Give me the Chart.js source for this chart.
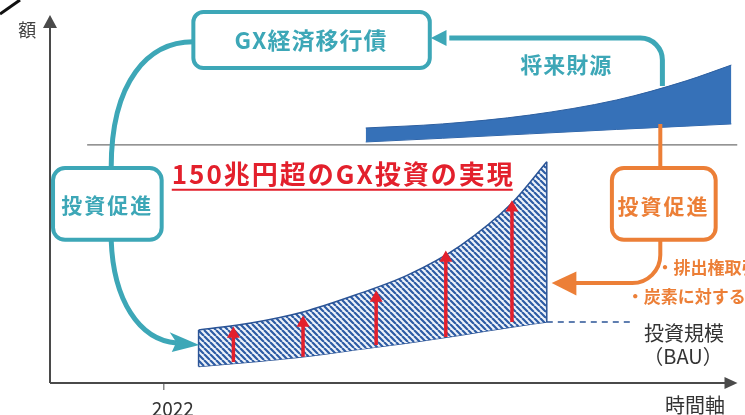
<!DOCTYPE html>
<html>
<head>
<meta charset="utf-8">
<script src="https://cdn.jsdelivr.net/npm/chart.js@4.4.0/dist/chart.umd.min.js"></script>
<style>
  html, body { margin: 0; padding: 0; background: #fff; }
</style>
</head>
<body>
<canvas id="gxChart" width="745" height="415"></canvas>
<script>
// investment scale: BAU (lower edge) and GX investment (upper edge)
const invYears = [2023, 2024.5, 2026, 2027.5, 2029, 2030.5, 2032, 2033];
const invUpper = [14.4, 16.3, 19.3, 23.9, 29.3, 37.2, 48.9, 60.1];
const invLower = [4.5, 5.7, 7.1, 9.0, 10.9, 13.0, 15.2, 16.6];

// future revenue wedge (将来財源)
const srcYears = [2027.8, 2030, 2032.5, 2035, 2037, 2038.3];
const srcTop = [69.3, 70.4, 72.8, 76.9, 82.1, 86.4];
const srcBottom = [65.5, 66.5, 67.7, 68.9, 69.8, 70.4];

// red arrows inside the hatched area
const arrowYears = [2024.0, 2026.0, 2028.1, 2030.1, 2032.0];
const arrowFrom = [5.7, 7.1, 10.3, 12.5, 16.6];
const arrowTo = [13.3, 16.3, 23.1, 34.0, 47.6];

// reference lines
const refLine = { from: 2019.8, level: 64.7 };
const bauLine = { years: [2033, 2035.4], level: 16.6 };

// axis range and tick
const xMin = 2018.733, xMax = 2038.477;
const tickYears = ['2022'];

const teal = '#3da7b7';
const orange = '#ec7f37';
const red = '#e3202c';
const navy = '#2b5496';
const font = '"Noto Sans CJK JP", "Noto Sans", sans-serif';

// hatch pattern for the investment area
function makeHatch() {
    const c = document.createElement('canvas');
    c.width = 6; c.height = 6;
    const g = c.getContext('2d');
    g.fillStyle = '#eef3fa';
    g.fillRect(0, 0, 6, 6);
    g.strokeStyle = '#2d5ca4';
    g.lineWidth = 2.2;
    g.beginPath();
    [-6, 0, 6].forEach(x0 => { g.moveTo(x0, 0); g.lineTo(x0 + 6, 6); });
    g.stroke();
    return g.createPattern(c, 'repeat');
}

const ctx2d = document.getElementById('gxChart').getContext('2d');
const hatch = makeHatch();

const datasets = [];

// red arrows (drawn on top)
arrowYears.forEach((yr, i) => {
    datasets.push({
        data: [{ x: yr, y: arrowFrom[i] }, { x: yr, y: arrowTo[i] }],
        borderColor: red,
        borderWidth: 3.5,
        pointRadius: [0, 7.5],
        pointStyle: 'triangle',
        pointBackgroundColor: red,
        pointBorderWidth: 0,
        fill: false,
        order: 0
    });
});

// hatched investment area
datasets.push({
    data: invYears.map((x, i) => ({ x, y: invLower[i] })),
    borderColor: navy, borderWidth: 1.5, pointRadius: 0,
    cubicInterpolationMode: 'monotone', fill: false, order: 3
});
datasets.push({
    data: invYears.map((x, i) => ({ x, y: invUpper[i] })),
    borderColor: navy, borderWidth: 1.5, pointRadius: 0,
    cubicInterpolationMode: 'monotone', fill: '-1', backgroundColor: hatch, order: 2
});
[0, invYears.length - 1].forEach(i => {
    datasets.push({
        data: [{ x: invYears[i], y: invLower[i] }, { x: invYears[i], y: invUpper[i] }],
        borderColor: navy, borderWidth: 1.5, pointRadius: 0, fill: false, order: 1
    });
});

// future revenue wedge
datasets.push({
    data: srcYears.map((x, i) => ({ x, y: srcBottom[i] })),
    borderColor: '#2d5fa0', borderWidth: 1, pointRadius: 0,
    cubicInterpolationMode: 'monotone', fill: false, order: 5
});
datasets.push({
    data: srcYears.map((x, i) => ({ x, y: srcTop[i] })),
    borderColor: '#2d5fa0', borderWidth: 1, pointRadius: 0,
    cubicInterpolationMode: 'monotone', fill: '-1', backgroundColor: '#3671b8', order: 4
});

// thin horizontal reference line and BAU dashed line
datasets.push({
    data: [{ x: refLine.from, y: refLine.level }, { x: xMax, y: refLine.level }],
    borderColor: '#707070', borderWidth: 1.2, pointRadius: 0, fill: false, order: 6
});
datasets.push({
    data: bauLine.years.map(x => ({ x, y: bauLine.level })),
    borderColor: navy, borderWidth: 1.5, borderDash: [6, 5], pointRadius: 0, fill: false, order: 6
});

// boxes, curved arrows and labels
const overlay = {
    id: 'overlay',
    afterDraw(chart) {
        const { ctx, chartArea: a, scales: { x, y } } = chart;
        const P = p => [x.getPixelForValue(p[0]), y.getPixelForValue(p[1])];

        function text(str, p, size, color, bold, align, spacing) {
            const [tx, ty] = P(p);
            ctx.font = (bold ? 'bold ' : '') + size + 'px ' + font;
            ctx.letterSpacing = (spacing || 0) + 'px';
            ctx.fillStyle = color;
            ctx.textAlign = align || 'center';
            ctx.textBaseline = 'middle';
            ctx.fillText(str, tx, ty);
            const w = ctx.measureText(str).width;
            ctx.letterSpacing = '0px';
            return w;
        }
        function box(p1, p2, color, r) {
            const [x1, y1] = P(p1), [x2, y2] = P(p2);
            ctx.beginPath();
            ctx.roundRect(x1, y1, x2 - x1, y2 - y1, r);
            ctx.fillStyle = '#fff';
            ctx.fill();
            ctx.strokeStyle = color;
            ctx.lineWidth = 4;
            ctx.stroke();
        }
        function poly(pts, color) {
            ctx.beginPath();
            pts.forEach((p, i) => { const [qx, qy] = P(p); i ? ctx.lineTo(qx, qy) : ctx.moveTo(qx, qy); });
            ctx.closePath();
            ctx.fillStyle = color;
            ctx.fill();
        }

        ctx.save();
        ctx.lineCap = 'butt';

        // scan artefact in the corner
        ctx.strokeStyle = '#111';
        ctx.lineWidth = 3;
        ctx.beginPath();
        ctx.moveTo(0, 14);
        ctx.lineTo(20, 0);
        ctx.stroke();

        // axes with arrow heads
        ctx.strokeStyle = '#4a4a4a';
        ctx.fillStyle = '#4a4a4a';
        ctx.lineWidth = 2;
        ctx.beginPath();
        ctx.moveTo(a.left, a.bottom);
        ctx.lineTo(a.left, a.top + 10);
        ctx.moveTo(a.left, a.bottom);
        ctx.lineTo(a.right - 10, a.bottom);
        ctx.stroke();
        ctx.beginPath();
        ctx.moveTo(a.left, a.top);
        ctx.lineTo(a.left - 7, a.top + 13);
        ctx.lineTo(a.left + 7, a.top + 13);
        ctx.closePath();
        ctx.fill();
        ctx.beginPath();
        ctx.moveTo(a.right, a.bottom);
        ctx.lineTo(a.right - 13, a.bottom - 6);
        ctx.lineTo(a.right - 13, a.bottom + 6);
        ctx.closePath();
        ctx.fill();

        // x tick
        tickYears.forEach(t => {
            const tx = x.getPixelForValue(Number(t));
            ctx.strokeStyle = '#888';
            ctx.lineWidth = 1.5;
            ctx.beginPath();
            ctx.moveTo(tx, a.bottom + 1);
            ctx.lineTo(tx, a.bottom + 7);
            ctx.stroke();
            text(t, [Number(t) + 0.26, -7.0], 19, '#333', false);
        });
        text('額', [2018.08, 95.9], 18, '#444', false);
        text('時間軸', [2037.26, -6.2], 20, '#333', false);

        // teal curve: GX bond box -> left box
        ctx.strokeStyle = teal;
        ctx.lineWidth = 5;
        ctx.beginPath();
        let s = P([2022.85, 92.7]), c1 = P([2021.57, 92.7]), c2 = P([2020.49, 82.3]), e = P([2020.49, 58.4]);
        ctx.moveTo(s[0], s[1]);
        ctx.bezierCurveTo(c1[0], c1[1], c2[0], c2[1], e[0], e[1]);
        ctx.stroke();

        // teal curve: left box -> investment area
        ctx.beginPath();
        s = P([2020.49, 38.86]); c1 = P([2020.55, 22.55]); c2 = P([2021.29, 11.68]); e = P([2022.37, 10.87]);
        ctx.moveTo(s[0], s[1]);
        ctx.bezierCurveTo(c1[0], c1[1], c2[0], c2[1], e[0], e[1]);
        ctx.stroke();
        poly([[2023.02, 10.33], [2022.17, 13.8], [2022.36, 11.1], [2022.23, 8.4]], teal);

        // teal line: future revenue -> GX bond box
        ctx.beginPath();
        s = P([2036.32, 80.71]);
        const corner = P([2036.32, 93.75]);
        e = P([2030.2, 93.75]);
        ctx.moveTo(s[0], s[1]);
        ctx.arcTo(corner[0], corner[1], e[0], e[1], 22);
        ctx.lineTo(e[0], e[1]);
        ctx.stroke();
        poly([[2029.67, 93.75], [2030.12, 95.9], [2030.12, 91.6]], teal);

        // orange connections
        ctx.strokeStyle = orange;
        ctx.lineWidth = 4;
        ctx.beginPath();
        s = P([2036.26, 70.38]); e = P([2036.26, 58.42]);
        ctx.moveTo(s[0], s[1]);
        ctx.lineTo(e[0], e[1]);
        ctx.stroke();
        ctx.beginPath();
        s = P([2036.26, 38.86]);
        const oc = P([2036.26, 27.17]);
        e = P([2033.8, 27.17]);
        ctx.moveTo(s[0], s[1]);
        ctx.arcTo(oc[0], oc[1], e[0], e[1], 28);
        ctx.lineTo(e[0], e[1]);
        ctx.stroke();
        poly([[2033.14, 27.17], [2033.85, 30.3], [2033.85, 23.8]], orange);

        // boxes
        box([2022.85, 100.8], [2029.64, 85.6], teal, 10);
        text('GX経済移行債', [2026.23, 93.2], 23, teal, true, 'center', 1);
        box([2018.82, 58.4], [2021.94, 38.9], teal, 12);
        text('投資促進', [2020.38, 48.4], 21, teal, true, 'center', 2);
        box([2034.87, 58.4], [2037.85, 38.9], orange, 12);
        text('投資促進', [2036.35, 48.0], 21, orange, true, 'center', 2);

        text('将来財源', [2033.56, 86.4], 22, teal, true, 'center', 1);

        // title with underline
        const w = text('150兆円超のGX投資の実現', [2022.23, 56.8], 26, red, true, 'left', 2);
        const [ux, uy] = P([2022.23, 52.5]);
        ctx.strokeStyle = red;
        ctx.lineWidth = 2;
        ctx.beginPath();
        ctx.moveTo(ux, uy);
        ctx.lineTo(ux + w - 2, uy);
        ctx.stroke();

        // side notes
        text('・排出権取引', [2036.15, 31.25], 17, orange, true, 'left');
        text('・炭素に対する賦課金', [2035.3, 23.6], 17, orange, true, 'left');
        text('投資規模', [2036.94, 13.6], 20, '#333', false);
        text('（BAU）', [2036.91, 7.1], 20, '#333', false);

        ctx.restore();
    }
};

new Chart(ctx2d, {
    type: 'line',
    data: { datasets },
    options: {
        responsive: false,
        animation: false,
        events: [],
        layout: { padding: { left: 50, right: 0, top: 15, bottom: 32 } },
        plugins: { legend: { display: false }, tooltip: { enabled: false } },
        scales: {
            x: { type: 'linear', min: xMin, max: xMax, display: false },
            y: { min: 0, max: 100, display: false }
        }
    },
    plugins: [overlay]
});
</script>
</body>
</html>
